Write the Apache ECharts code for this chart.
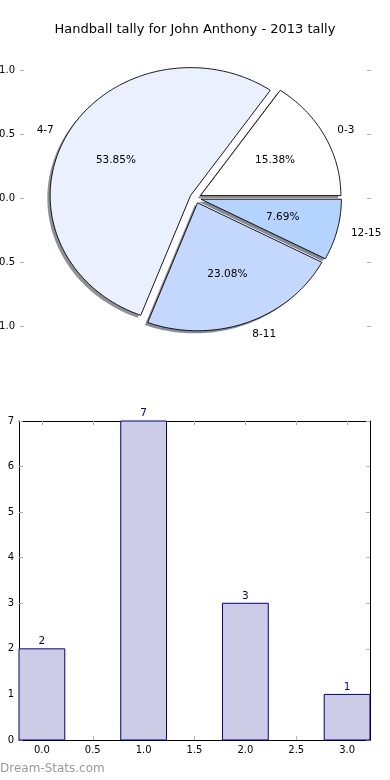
<!DOCTYPE html>
<html><head><meta charset="utf-8">
<script src="https://cdn.jsdelivr.net/npm/echarts@6/dist/echarts.min.js"></script>
<style>html,body{margin:0;padding:0;background:#fff}#c{width:390px;height:780px}</style>
</head><body><div id="c"></div>
<script>
// ---- data ----
const titleText = 'Handball tally for John Anthony - 2013 tally';
const sliceLabels = ['0-3', '4-7', '8-11', '12-15'];
const sliceValues = [2, 7, 3, 1];
const pieYTicks = [-1, -0.5, 0, 0.5, 1];
const barPositions = [0, 1, 2, 3];
const barValues = [2, 7, 3, 1];
const barXTicks = [0, 0.5, 1, 1.5, 2, 2.5, 3];
const barYTicks = [0, 1, 2, 3, 4, 5, 6, 7];
const watermark = 'Dream-Stats.com';

// ---- styles ----
const sliceColors = ['#ffffff', '#eaf0fd', '#c4d7fc', '#b4d4ff'];
const EXPLODE = 0.04, LABEL_DIST = 1.1, PCT_DIST = 0.6, SHADOW = 0.02, BAR_W = 0.45;
const FONT = 'DejaVu Sans';
const TICK_COLOR = '#b0b0b0';

const total = sliceValues.reduce((a, b) => a + b, 0);
const starts = [];
{ let acc = 0; sliceValues.forEach(v => { starts.push(acc); acc += v; }); }

function shadowColor(hex) {
  const r = parseInt(hex.slice(1, 3), 16), g = parseInt(hex.slice(3, 5), 16), b = parseInt(hex.slice(5, 7), 16);
  return 'rgba(' + Math.round(r * 0.3) + ',' + Math.round(g * 0.3) + ',' + Math.round(b * 0.3) + ',0.6)';
}

function renderSlice(params, api) {
  const i = params.dataIndex;
  const v = api.value(2);
  const a0 = starts[i] / total * 2 * Math.PI;
  const a1 = (starts[i] + v) / total * 2 * Math.PI;
  const am = (a0 + a1) / 2;
  const cx = EXPLODE * Math.cos(am), cy = EXPLODE * Math.sin(am);
  const n = Math.max(8, Math.ceil((a1 - a0) / (Math.PI / 180)));
  const pts = [api.coord([cx, cy])];
  const sh = [api.coord([cx - SHADOW, cy - SHADOW])];
  for (let k = 0; k <= n; k++) {
    const t = a0 + (a1 - a0) * k / n;
    pts.push(api.coord([cx + Math.cos(t), cy + Math.sin(t)]));
    sh.push(api.coord([cx - SHADOW + Math.cos(t), cy - SHADOW + Math.sin(t)]));
  }
  const lp = api.coord([cx + LABEL_DIST * Math.cos(am), cy + LABEL_DIST * Math.sin(am)]);
  const pp = api.coord([cx + PCT_DIST * Math.cos(am), cy + PCT_DIST * Math.sin(am)]);
  const col = sliceColors[i];
  return {
    type: 'group',
    children: [
      { type: 'polygon', z2: 0, shape: { points: sh }, style: { fill: shadowColor(col), stroke: null } },
      { type: 'polygon', z2: 10, shape: { points: pts }, style: { fill: col, stroke: '#000', lineWidth: 0.9 } },
      { type: 'text', z2: 20, x: lp[0], y: lp[1], style: { text: sliceLabels[i], fill: '#000', font: '10.5px "' + FONT + '"', align: Math.cos(am) > 0 ? 'left' : 'right', verticalAlign: 'middle' } },
      { type: 'text', z2: 20, x: pp[0], y: pp[1], style: { text: (v / total * 100).toFixed(2) + '%', fill: '#000', font: '10.5px "' + FONT + '"', align: 'center', verticalAlign: 'middle' } }
    ]
  };
}

function renderBar(params, api) {
  const x = api.value(0), v = api.value(1);
  const p0 = api.coord([x - BAR_W / 2, v]);
  const p1 = api.coord([x + BAR_W / 2, 0]);
  const top = api.coord([x, v]);
  return {
    type: 'group',
    children: [
      { type: 'rect', shape: { x: p0[0], y: p0[1], width: p1[0] - p0[0], height: p1[1] - p0[1] }, style: { fill: '#cccce6', stroke: '#000080', lineWidth: 1 } },
      { type: 'text', x: top[0], y: top[1] - 2, style: { text: String(v), fill: '#000080', font: '10.5px "' + FONT + '"', align: 'center', verticalAlign: 'bottom' } }
    ]
  };
}

const tickStyle = { show: true, inside: true, length: 4, lineStyle: { color: TICK_COLOR, width: 1 } };
const labelStyle = { color: '#000', fontSize: 10, fontFamily: FONT };
const lineOn = { show: true, onZero: false, lineStyle: { color: '#000', width: 1 } };
const lineOff = { show: false, onZero: false };
const fmt1 = v => (v < 0 ? '\u2212' : '') + Math.abs(v).toFixed(1);

const chart = echarts.init(document.getElementById('c'), null, { renderer: 'canvas' });
chart.setOption({
  animation: false,
  backgroundColor: '#fff',
  title: { text: titleText, left: 'center', top: 23, padding: 0, textStyle: { fontSize: 13, fontWeight: 'normal', color: '#000', fontFamily: FONT } },
  graphic: [{ type: 'text', left: 0, top: 763, style: { text: watermark, fill: '#9a9a9a', font: '12px "' + FONT + '"' } }],
  grid: [
    { left: 20, right: 19, top: 70, height: 256, containLabel: false, outerBoundsMode: 'none' },
    { left: 19, right: 20, top: 421, height: 319, containLabel: false, outerBoundsMode: 'none' }
  ],
  xAxis: [
    { gridIndex: 0, type: 'value', min: -1.25, max: 1.25, show: false, axisLine: lineOff },
    { gridIndex: 1, type: 'value', min: -0.225, max: 3.225, position: 'bottom',
      axisLine: lineOn,
      axisTick: Object.assign({ customValues: barXTicks }, tickStyle),
      axisLabel: Object.assign({ customValues: barXTicks, formatter: fmt1, margin: 5 }, labelStyle),
      splitLine: { show: false } },
    { gridIndex: 1, type: 'value', min: -0.225, max: 3.225, position: 'top',
      axisLine: lineOn,
      axisTick: Object.assign({ customValues: barXTicks }, tickStyle),
      axisLabel: { show: false }, splitLine: { show: false } }
  ],
  yAxis: [
    { gridIndex: 0, type: 'value', min: -1, max: 1, position: 'left',
      axisLine: lineOff,
      axisTick: Object.assign({ customValues: pieYTicks }, tickStyle),
      axisLabel: Object.assign({ customValues: pieYTicks, formatter: fmt1, margin: 5 }, labelStyle),
      splitLine: { show: false } },
    { gridIndex: 0, type: 'value', min: -1, max: 1, position: 'right',
      axisLine: lineOff,
      axisTick: Object.assign({ customValues: pieYTicks }, tickStyle),
      axisLabel: { show: false }, splitLine: { show: false } },
    { gridIndex: 1, type: 'value', min: 0, max: 7, interval: 1, position: 'left',
      axisLine: lineOn,
      axisTick: Object.assign({ customValues: barYTicks }, tickStyle),
      axisLabel: Object.assign({ customValues: barYTicks, margin: 5 }, labelStyle),
      splitLine: { show: false } },
    { gridIndex: 1, type: 'value', min: 0, max: 7, interval: 1, position: 'right',
      axisLine: lineOn,
      axisTick: Object.assign({ customValues: barYTicks }, tickStyle),
      axisLabel: { show: false }, splitLine: { show: false } }
  ],
  series: [
    { type: 'custom', name: 'pie', xAxisIndex: 0, yAxisIndex: 0, clip: false,
      renderItem: renderSlice,
      data: sliceValues.map((v, i) => ({ name: sliceLabels[i], value: [0, 0, v] })),
      encode: { x: 0, y: 1 } },
    { type: 'custom', name: 'bars', xAxisIndex: 1, yAxisIndex: 2, clip: false,
      renderItem: renderBar,
      data: barPositions.map((x, i) => [x, barValues[i]]),
      encode: { x: 0, y: 1 } }
  ]
});
</script>
</body></html>
